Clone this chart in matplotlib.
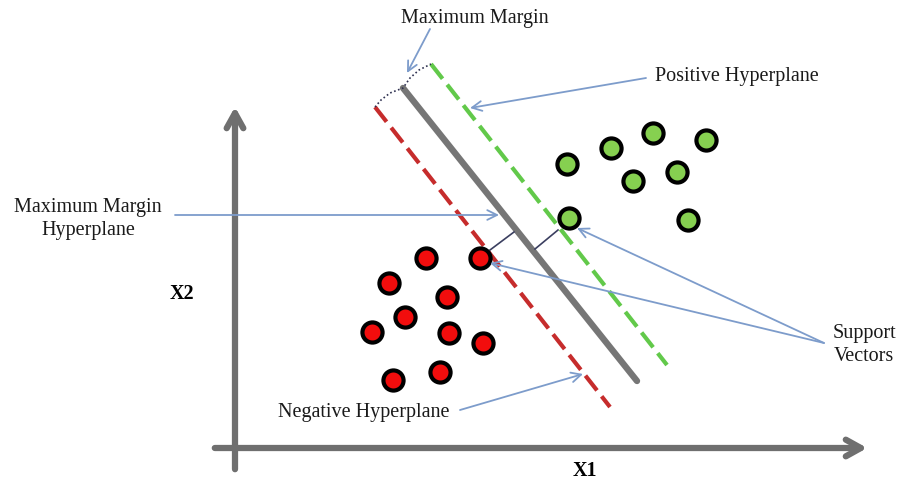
import matplotlib.pyplot as plt
from matplotlib.patches import FancyArrowPatch

# Canvas is the picture in pixel units (y grows downwards)
W, H = 901, 482

# class points (pixel coords)
red_x = [426, 480, 389, 447, 405, 372, 449, 483, 393, 440]
red_y = [258, 258, 283, 297, 317, 332, 333, 343, 380, 372]
green_x = [567, 611, 653, 706, 633, 677, 569, 688]
green_y = [164, 148, 133, 140, 181, 172, 218, 220]

# hyperplanes: (x0, y0, x1, y1)
hyper_mid = (403, 88, 637, 381)
hyper_neg = (375, 107, 610, 407)
hyper_pos = (431, 64, 667, 365)

# margin curve on top and the two distance ticks
margin_x = [375, 381, 390, 403, 410, 419, 431]
margin_y = [107, 100, 93, 88, 78, 70, 64]
dist_segs = [(490, 250, 514, 232), (535, 249, 558, 230)]

# annotations: text, text pos, arrow start, arrow end
labels = [
    ("Maximum Margin", (475, 19), (430, 29), (407, 73)),
    ("Positive Hyperplane", (737, 76), (646, 78), (470, 108)),
    ("Maximum Margin\nHyperplane", (88, 219), (175, 215), (499, 215)),
    ("Negative Hyperplane", (364, 413), (460, 410), (583, 374)),
    ("Support\nVectors", (864, 345), (824, 343), (577, 228)),
    (None, None, (824, 343), (490, 263)),
]

fig = plt.figure(figsize=(W / 100, H / 100), dpi=100)
ax = fig.add_axes([0, 0, 1, 1])
ax.set_xlim(0, W)
ax.set_ylim(H, 0)
ax.axis('off')

serif = ['Liberation Serif', 'DejaVu Serif']
axis_col = '#6f6f6f'

# axes of the diagram
for start, end in [((235, 472), (235, 104)), ((212, 448), (870, 448))]:
    ax.add_patch(FancyArrowPatch(start, end, arrowstyle='->,head_length=0.9,head_width=0.5',
                                 color=axis_col, lw=4.5, capstyle='round', joinstyle='round',
                                 mutation_scale=12))
ax.text(585, 471, 'X1', family=serif, fontsize=14.5, fontweight='bold', ha='center', va='center')
ax.text(182, 294, 'X2', family=serif, fontsize=14.5, fontweight='bold', ha='center', va='center')

# hyperplanes
x0, y0, x1, y1 = hyper_mid
ax.plot([x0, x1], [y0, y1], color='#767676', lw=4.6, solid_capstyle='round')
x0, y0, x1, y1 = hyper_neg
ax.plot([x0, x1], [y0, y1], color='#c62c2c', lw=3.0, dashes=(4.5, 1.8))
x0, y0, x1, y1 = hyper_pos
ax.plot([x0, x1], [y0, y1], color='#62c94a', lw=3.0, dashes=(4.5, 1.8))

ax.plot(margin_x, margin_y, color='#2e3050', lw=1.2, ls=(0, (1, 1.5)))
for sx, sy, ex, ey in dist_segs:
    ax.plot([sx, ex], [sy, ey], color='#3b3f60', lw=1.2)

# points
ax.scatter(red_x, red_y, s=210, c='#f20d0d', edgecolors='black', linewidths=3, zorder=5)
ax.scatter(green_x, green_y, s=210, c='#86d050', edgecolors='black', linewidths=3, zorder=5)

# labels with arrows
for txt, tpos, a0, a1 in labels:
    if txt is not None:
        ax.text(tpos[0], tpos[1], txt, family=serif, fontsize=14.5, ha='center', va='center',
                linespacing=1.3, color='#1a1a1a')
    ax.annotate('', xy=a1, xytext=a0,
                arrowprops=dict(arrowstyle='->,head_length=0.7,head_width=0.35',
                                color='#7d9ccb', lw=1.3, shrinkA=0, shrinkB=0),
                zorder=6)

fig.savefig('out.png', dpi=100)
